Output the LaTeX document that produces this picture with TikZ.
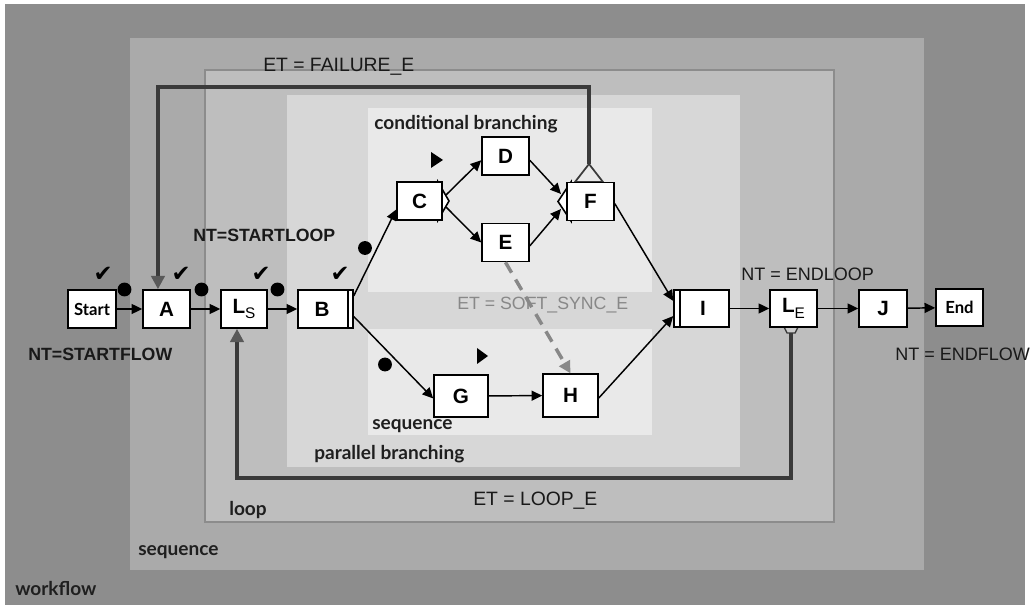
\documentclass[tikz,border=0pt]{standalone}
\usepackage{fontspec}
\setmainfont{Liberation Sans}
\newfontfamily\gill{Lato}
\newfontfamily\symf{DejaVu Sans}
\usetikzlibrary{arrows.meta}
\definecolor{cwf}{HTML}{8D8D8D}
\definecolor{cseq}{HTML}{AAAAAA}
\definecolor{cloop}{HTML}{BEBEBE}
\definecolor{cpar}{HTML}{D7D7D7}
\definecolor{ccond}{HTML}{E9E9E9}
\definecolor{cback}{HTML}{3A3A3A}
\definecolor{csoft}{HTML}{888888}
\tikzset{
  wbox/.style={draw=black, line width=1.2pt, fill=white, inner sep=0pt,
    minimum width=35.25pt, minimum height=28.5pt, font=\bfseries\fontsize{15.5}{15.5}\selectfont},
  edge/.style={draw=black, line width=1.1pt, -{Triangle[length=8pt,width=7.5pt]}},
  backedge/.style={draw=cback, line width=3pt, -{Triangle[length=10pt,width=10pt,fill=black!65,color=black!65]}},
  softedge/.style={draw=csoft, line width=2.6pt, dash pattern=on 9pt off 6pt, -{Triangle[length=9pt,width=9pt]}},
  grouplabel/.style={inner sep=0pt, text=black!88, font=\gill\bfseries\fontsize{14.3}{14.3}\selectfont},
  tlabel/.style={inner sep=0pt, text=black!90},
  chk/.style={inner sep=0pt, font=\symf\fontsize{17}{17}\selectfont},
  dot/.style={fill=black},
  play/.style={fill=black},
  chev/.style={draw=black, line width=1.2pt, fill=white}
}
\begin{document}
\begin{tikzpicture}[x=0.75pt,y=-0.75pt]
\useasboundingbox (0,0) rectangle (1031,605);
\fill[white] (0,0) rectangle (1031,605);
% regions
\fill[cwf] (5,4) rectangle (1025,605);
\fill[cseq] (130,38) rectangle (924,570);
\filldraw[fill=cloop, draw=black!45, line width=0.9pt] (205,70) rectangle (834,522);
\fill[cpar] (287,95) rectangle (740,467);
\fill[ccond] (368,108) rectangle (652,292);
\fill[ccond] (368,329) rectangle (652,435);

% group labels
\node[grouplabel, anchor=west] (lcond) at (374,124) {conditional branching};
\node[grouplabel, anchor=west] (lseqin) at (372,426) {sequence};
\node[grouplabel, anchor=west] (lpar) at (314,454) {parallel branching};
\node[grouplabel, anchor=west] (lloop) at (229,510) {loop};
\node[grouplabel, anchor=west] (lseqout) at (138,552) {sequence};
\node[grouplabel, anchor=west] (lwf) at (15,588) {workflow};

% chevrons and decorations (drawn under boxes)
\filldraw[chev] (438,182) -- (449,201) -- (438,220) -- cycle;
\filldraw[chev] (571,182) -- (558,201.5) -- (571,221) -- cycle;
\filldraw[draw=cback, fill=ccond, line width=1.3pt] (575,182) -- (589,164) -- (603,182) -- cycle;
\filldraw[draw=cback, fill=black!20, line width=1pt] (784,327) -- (798,327) -- (795,333) -- (787,333) -- cycle;

% nodes
\node[wbox, minimum width=36pt, font=\gill\bfseries\fontsize{12.5}{12.5}\selectfont] (start) at (92,309) {Start};
\node[wbox] (a) at (166.5,309) {A};
\node[wbox, minimum width=34.5pt] (ls) at (244,309) {L\raisebox{-4pt}{\mdseries\fontsize{11.5}{11.5}\selectfont S}};
\node[wbox, minimum width=41.25pt] (b) at (325.5,309) {\hspace*{-5pt}B};
\draw[line width=1.2pt] (348,290) -- (348,328);
\node[wbox, minimum width=33.75pt] (c) at (419.5,201) {C};
\node[wbox] (d) at (505.5,156) {D};
\node[wbox] (e) at (505.5,242.5) {E};
\node[wbox] (f) at (590.5,201.5) {F};
\node[wbox, minimum width=40.5pt, minimum height=31.5pt] (g) at (461,396) {G};
\node[wbox, minimum width=41.25pt, minimum height=32pt] (h) at (570.5,395.5) {H};
\node[wbox, minimum width=41.25pt, minimum height=27.75pt] (i) at (701.5,308.5) {\hspace*{2.25pt}I};
\draw[line width=1.2pt] (680,290) -- (680,327);
\node[wbox, minimum height=27.75pt] (le) at (793.5,308.5) {L\raisebox{-4pt}{\mdseries\fontsize{11.5}{11.5}\selectfont E}};
\node[wbox, minimum width=36pt, minimum height=27.75pt] (j) at (883,308.5) {J};
\node[wbox, minimum height=27.75pt, font=\gill\bfseries\fontsize{12.5}{12.5}\selectfont] (end) at (959.5,307.5) {End};

% connector anchor coordinates
\coordinate (cu) at (446,195);
\coordinate (cd) at (446,207);
\coordinate (fu) at (561,194);
\coordinate (fd) at (561,209);
\coordinate (ftop) at (589,164);
\coordinate (lebot) at (791,333);

% connectors
\draw[edge] (start) -- (a);
\draw[edge] (a) -- (ls);
\draw[edge] (ls) -- (b);
\draw[edge] (b.25) -- (c.200);
\draw[edge] (b.-15) -- (g.185);
\draw[edge] (cu) -- (d.190);
\draw[edge] (cd) -- (e.west);
\draw[edge] (d.-10) -- (fu);
\draw[edge] (e.-8) -- (fd);
\draw[edge] (f.-5) -- (i.165);
\draw[edge] (g) -- (h);
\draw[edge] (h.-5) -- (i.-165);
\draw[edge] (i) -- (le);
\draw[edge] (le) -- (j);
\draw[edge] (j) -- (end);
\draw[softedge] (e.south) -- (h.north);
\draw[backedge] (ftop) -- ++(0,-77) -| ([xshift=-6.4pt]a.north);
\draw[backedge] (lebot) -- ++(0,145) -| ([xshift=-5.25pt]ls.south);

% edge labels
\node[tlabel, font=\fontsize{14.5}{14.5}\selectfont, anchor=west] (etfail) at (263,67) {ET = FAILURE\_E};
\node[tlabel, font=\fontsize{14.5}{14.5}\selectfont, anchor=west] (etloop) at (473,501) {ET = LOOP\_E};
\node[tlabel, text=csoft, font=\fontsize{13.3}{13.3}\selectfont, anchor=west] (etsoft) at (457,305) {ET = SOFT\_SYNC\_E};
\node[tlabel, font=\bfseries\fontsize{13.3}{13.3}\selectfont, anchor=west] (ntsl) at (193,235) {NT=STARTLOOP};
\node[tlabel, font=\bfseries\fontsize{13.3}{13.3}\selectfont, anchor=west] (ntsf) at (28,354) {NT=STARTFLOW};
\node[tlabel, font=\fontsize{13.5}{13.5}\selectfont, anchor=west] (ntel) at (741,274) {NT = ENDLOOP};
\node[tlabel, font=\fontsize{13.5}{13.5}\selectfont, anchor=west] (ntef) at (895,354) {NT = ENDFLOW};

% markers
\node[chk] (k1) at (103,274) {✔};
\node[chk] (k2) at (181,274) {✔};
\node[chk] (k3) at (261,274) {✔};
\node[chk] (k4) at (340,274) {✔};
\fill[dot] (124.5,289.5) circle (5.2pt);
\fill[dot] (201.5,289.5) circle (5.2pt);
\fill[dot] (277.5,289.5) circle (5.2pt);
\fill[dot] (365,248) circle (5.2pt);
\fill[dot] (385,364.5) circle (5.2pt);
\fill[play] (431,152) -- (443,160) -- (431,168) -- cycle;
\fill[play] (477,348) -- (488,356) -- (477,364) -- cycle;
\end{tikzpicture}
\end{document}
